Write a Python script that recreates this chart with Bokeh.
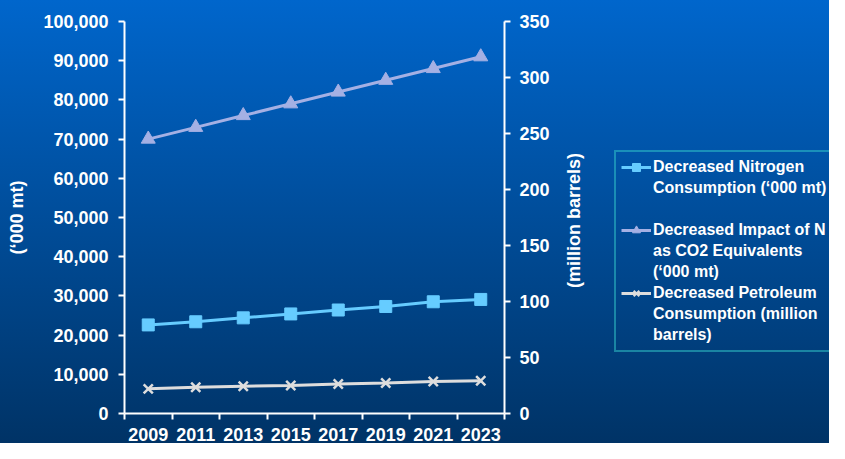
import math
from bokeh.plotting import figure
from bokeh.layouts import row
from bokeh.models import (Range1d, LinearAxis, FixedTicker, NumeralTickFormatter,
                          Legend, LegendItem, ColumnDataSource, Label)
from bokeh.embed import file_html
from bokeh.resources import INLINE

years = ["2009", "2011", "2013", "2015", "2017", "2019", "2021", "2023"]
nitrogen = [22600, 23400, 24400, 25400, 26400, 27300, 28500, 29100]
impact = [70000, 73000, 76000, 79000, 82000, 85000, 88000, 91000]
petroleum = [22.0, 23.4, 24.3, 25.0, 26.3, 27.2, 28.6, 29.2]
left_ticks = list(range(0, 100001, 10000))
right_ticks = list(range(0, 351, 50))
left_title = "(\u2018000 mt)"
right_title = "(million barrels)"
series_labels = [
    ["Decreased Nitrogen", "Consumption (\u2018000 mt)", " "],
    ["Decreased Impact of N", "as CO2 Equivalents", "(\u2018000 mt)"],
    ["Decreased Petroleum", "Consumption (million", "barrels)"],
]

pos = [i + 0.5 for i in range(len(years))]
src = ColumnDataSource(dict(x=pos, nitrogen=nitrogen, impact=impact, petroleum=petroleum))

FONT = "Liberation Sans"
H = 443
GRAD = {"background": "linear-gradient(to bottom, #0066cc 0%, #003366 100%)"}

p = figure(width=560, height=H, output_backend="svg", toolbar_location=None,
           x_range=Range1d(0, len(years)), y_range=Range1d(0, 100000),
           x_axis_type=None, y_axis_type=None,
           min_border_left=124, min_border_right=56, min_border_top=21, min_border_bottom=28)
p.extra_y_ranges = {"right": Range1d(0, 350)}
p.styles = GRAD
p.border_fill_color = None
p.background_fill_color = None
p.outline_line_color = None

def style_axis(ax):
    ax.axis_line_color = "white"
    ax.axis_line_width = 2
    ax.major_tick_line_color = "white"
    ax.major_tick_line_width = 2
    ax.major_tick_out = 6
    ax.major_tick_in = 0
    ax.minor_tick_line_color = None
    ax.major_label_text_color = "white"
    ax.major_label_text_font = FONT
    ax.major_label_text_font_style = "bold"
    ax.major_label_text_font_size = "18px"
    ax.axis_label_text_color = "white"
    ax.axis_label_text_font = FONT
    ax.axis_label_text_font_style = "bold"
    ax.axis_label_text_font_size = "18px"

yl = LinearAxis(ticker=FixedTicker(ticks=left_ticks), formatter=NumeralTickFormatter(format="0,0"),
                axis_label=left_title)
style_axis(yl)
yl.major_label_standoff = 10
yl.axis_label_standoff = 13
p.add_layout(yl, "left")

yr = LinearAxis(y_range_name="right", ticker=FixedTicker(ticks=right_ticks))
style_axis(yr)
yr.major_label_standoff = 9
p.add_layout(yr, "right")

xa = LinearAxis(ticker=FixedTicker(ticks=pos, minor_ticks=list(range(len(years) + 1))),
                major_label_overrides={x: y for x, y in zip(pos, years)})
style_axis(xa)
xa.major_tick_line_color = None
xa.minor_tick_line_color = "white"
xa.minor_tick_line_width = 2
xa.minor_tick_out = 6
xa.minor_tick_in = 0
xa.major_label_standoff = 8
p.add_layout(xa, "below")

p.ygrid.ticker = FixedTicker(ticks=left_ticks)
p.ygrid.grid_line_color = "white"
p.ygrid.grid_line_width = 2
p.xgrid.grid_line_color = None

c1, c2, c3 = "#66ccff", "#a4b0e4", "#dddddd"
styles = [
    dict(color=c1, marker="square", size=12),
    dict(color=c2, marker="triangle", size=14),
    dict(color=c3, marker="x", size=13),
]
cols = ["nitrogen", "impact", "petroleum"]
ranges = ["default", "default", "right"]
for col, st, rn in zip(cols, styles, ranges):
    p.line("x", col, source=src, y_range_name=rn, line_color=st["color"], line_width=3)
    p.scatter("x", col, source=src, y_range_name=rn, marker=st["marker"], size=st["size"],
              fill_color=st["color"], line_color=st["color"], line_width=2.5 if st["marker"] == "x" else 1)

# side panel: right-axis title (reading bottom-to-top) and the legend.
# Legend renderers use the same data but lie outside this figure's hidden ranges.
q = figure(width=269, height=H, output_backend="svg", toolbar_location=None,
           x_range=Range1d(1000, 1001), y_range=Range1d(0, 1), x_axis_type=None, y_axis_type=None,
           min_border=0)
q.extra_y_ranges = {"right": Range1d(0, 1)}
q.styles = GRAD
q.border_fill_color = None
q.background_fill_color = None
q.outline_line_color = None
q.grid.visible = False

q.add_layout(Label(x=13, y=193, x_units="screen", y_units="screen", text=right_title,
                   angle=math.pi / 2, text_align="center", text_baseline="middle",
                   text_color="white", text_font=FONT, text_font_style="bold",
                   text_font_size="18px"))

items = []
for labels, st, col, rn in zip(series_labels, styles, cols, ranges):
    lr = q.line("x", col, source=src, y_range_name=rn, line_color=st["color"], line_width=3)
    sr = q.scatter("x", col, source=src, y_range_name=rn, marker=st["marker"], size=8,
                   fill_color=st["color"], line_color=st["color"],
                   line_width=2 if st["marker"] == "x" else 1)
    items.append(LegendItem(label=labels[0], renderers=[lr, sr]))
    for extra in labels[1:]:
        items.append(LegendItem(label=extra, renderers=[]))

legend = Legend(items=items, location=(54, 61))
legend.background_fill_color = None
legend.border_line_color = "#33cccc"
legend.border_line_width = 2
legend.label_text_color = "white"
legend.label_text_font = FONT
legend.label_text_font_style = "bold"
legend.label_text_font_size = "16px"
legend.label_height = 20
legend.glyph_height = 20
legend.glyph_width = 30
legend.label_standoff = 2
legend.padding = 5
legend.spacing = 1
legend.margin = 0
q.add_layout(legend, "center")

layout = row(p, q, spacing=0)
open("out.html", "w").write(file_html(layout, INLINE))
